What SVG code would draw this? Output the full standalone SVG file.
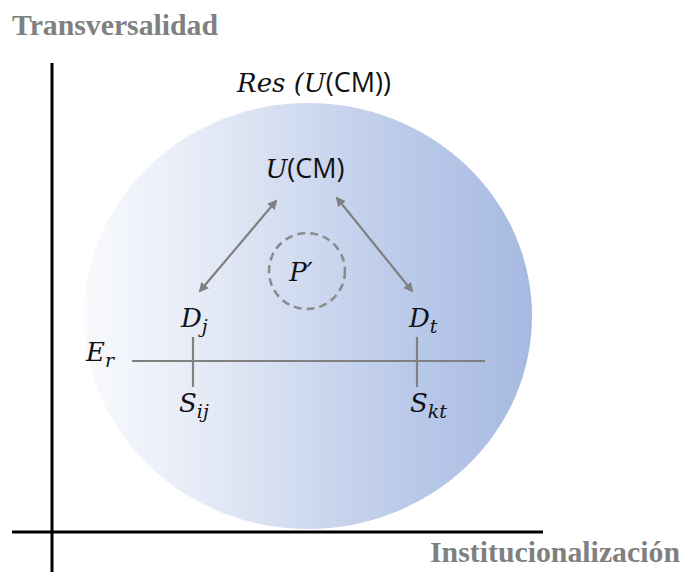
<svg xmlns="http://www.w3.org/2000/svg" width="688" height="572" viewBox="0 0 688 572">
<style>
.axis{stroke:#000;stroke-width:3;fill:none}
.axlbl{font-family:"Liberation Serif",serif;font-weight:bold;font-size:30px;fill:#808080}
.m{font-family:"DejaVu Serif",serif;font-style:italic;font-size:26px;fill:#111}
.s{font-family:"Open Sans","Liberation Sans",sans-serif;font-style:normal;font-size:27px}
.sub{font-size:19px}
.conn{stroke:#808080;stroke-width:2.2;fill:none}
</style>
<defs>
<linearGradient id="g" x1="0" y1="0" x2="1" y2="0">
<stop offset="0" stop-color="#f9fafd"/>
<stop offset="0.3" stop-color="#e2e8f5"/>
<stop offset="0.7" stop-color="#bccbea"/>
<stop offset="1" stop-color="#a6b9e1"/>
</linearGradient>
<marker id="ah" viewBox="0 0 10 10" refX="8" refY="5" markerWidth="4.5" markerHeight="4.5" orient="auto-start-reverse">
<path d="M0,0 L10,5 L0,10 z" fill="#808080"/>
</marker>
</defs>
<g id="res-circle">
<ellipse cx="308" cy="316" rx="224" ry="213" fill="url(#g)"/>
<text class="m" x="314" y="92" text-anchor="middle">Res (U<tspan class="s">(CM))</tspan></text>
</g>
<g id="axes">
<line class="axis" x1="52" y1="63" x2="52" y2="572"/>
<line class="axis" x1="12" y1="532" x2="543" y2="532"/>
<text class="axlbl" x="12" y="35" textLength="206" lengthAdjust="spacingAndGlyphs">Transversalidad</text>
<text class="axlbl" x="430" y="562" textLength="250" lengthAdjust="spacingAndGlyphs">Institucionalización</text>
</g>
<g id="connectors">
<line class="conn" x1="276" y1="201" x2="200" y2="291" marker-start="url(#ah)" marker-end="url(#ah)"/>
<line class="conn" x1="337" y1="198" x2="412" y2="291" marker-start="url(#ah)" marker-end="url(#ah)"/>
<line class="conn" x1="132" y1="361" x2="485" y2="361"/>
<line class="conn" x1="193" y1="337" x2="193" y2="387"/>
<line class="conn" x1="417" y1="337" x2="417" y2="387"/>
</g>
<g id="ucm">
<text class="m" x="305" y="178" text-anchor="middle">U<tspan class="s">(CM)</tspan></text>
</g>
<g id="p">
<circle cx="307" cy="271" r="38" fill="none" stroke="#8a8a8a" stroke-width="2.5" stroke-dasharray="8 5"/>
<text class="m" x="301" y="281" text-anchor="middle">P′</text>
</g>
<g id="dj"><text class="m" x="181" y="327">D<tspan class="sub" dy="6">j</tspan></text></g>
<g id="dt"><text class="m" x="409" y="327">D<tspan class="sub" dy="6">t</tspan></text></g>
<g id="er"><text class="m" x="86" y="361">E<tspan class="sub" dy="6">r</tspan></text></g>
<g id="sij"><text class="m" x="179" y="412">S<tspan class="sub" dy="6">ij</tspan></text></g>
<g id="skt"><text class="m" x="410" y="412">S<tspan class="sub" dy="6">kt</tspan></text></g>
</svg>
